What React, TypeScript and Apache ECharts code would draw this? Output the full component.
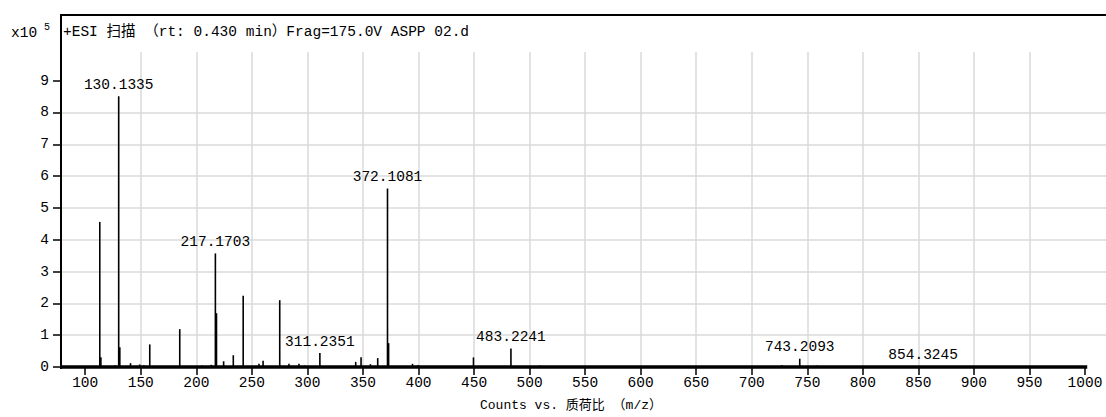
import React, { useEffect, useRef } from "react";
import * as echarts from "echarts";

// ---- data ----
const peakMz = [
  113.1, 114.1, 127.0, 130.1335, 131.14, 140.8, 149.0, 152.8, 158.1, 170.0,
  185.1, 205.0, 213.5, 217.1703, 218.17, 224.6, 233.3, 242.2, 256.4, 260.1,
  275.1, 283.4, 292.4, 297.6, 311.2351, 343.5, 348.3, 356.7, 363.3, 372.1081,
  373.11, 394.6, 399.6, 449.5, 483.2241, 509.0, 727.0, 743.2093, 758.8, 854.3245,
];
const peakCounts = [
  4.56, 0.31, 0.05, 8.51, 0.62, 0.12, 0.08, 0.05, 0.71, 0.03,
  1.19, 0.05, 0.07, 3.57, 1.69, 0.18, 0.37, 2.24, 0.1, 0.2,
  2.1, 0.1, 0.1, 0.05, 0.44, 0.16, 0.31, 0.09, 0.28, 5.61,
  0.75, 0.1, 0.06, 0.3, 0.58, 0.05, 0.06, 0.26, 0.05, 0.03,
];
const labeledMz = [130.1335, 217.1703, 311.2351, 372.1081, 483.2241, 743.2093, 854.3245];
const xTickValues = [100, 150, 200, 250, 300, 350, 400, 450, 500, 550, 600, 650, 700, 750, 800, 850, 900, 950, 1000];
const yTickValues = [0, 1, 2, 3, 4, 5, 6, 7, 8, 9];
const X_MIN = 78.2;
const X_MAX = 1018.9;
const Y_MAX = 9.9;
const baselineRange = [X_MIN, 1002];
const titleText = "+ESI 扫描 （rt: 0.430 min）Frag=175.0V ASPP 02.d";
const xAxisTitle = "Counts vs. 质荷比 （m/z）";

const FONT = "'Liberation Mono', 'Noto Sans CJK SC', monospace";
const FS = 14.5;

export default function App() {
  const ref = useRef<HTMLDivElement>(null);
  useEffect(() => {
    if (!ref.current) return;
    const chart = echarts.init(ref.current, undefined, { renderer: "svg" });
    const peakData = peakMz.map((m, i) => [m, peakCounts[i], labeledMz.indexOf(m) >= 0 ? 1 : 0]);
    chart.setOption({
      animation: false,
      backgroundColor: "#ffffff",
      grid: { left: 61, right: 0, top: 52, bottom: 50, containLabel: false },
      xAxis: {
        type: "value",
        min: X_MIN,
        max: X_MAX,
        minInterval: 50,
        maxInterval: 50,
        splitNumber: 19,
        axisLine: { show: false },
        axisTick: {
          show: true,
          length: 8,
          customValues: xTickValues,
          lineStyle: { color: "#000", width: 1.5 },
        },
        axisLabel: {
          customValues: xTickValues,
          formatter: (v: number) => String(v),
          margin: 9,
          color: "#000",
          fontFamily: FONT,
          fontSize: FS,
        },
        splitLine: {
          show: true,
          showMinLine: false,
          showMaxLine: false,
          lineStyle: { color: "#dadada", width: 1.5 },
        },
      },
      yAxis: {
        type: "value",
        min: 0,
        max: Y_MAX,
        interval: 1,
        axisLine: { show: false },
        axisTick: {
          show: true,
          length: 8,
          customValues: yTickValues,
          lineStyle: { color: "#000", width: 1.5 },
        },
        axisLabel: {
          customValues: yTickValues,
          formatter: (v: number) => String(v),
          margin: 12,
          color: "#000",
          fontFamily: FONT,
          fontSize: FS,
        },
        splitLine: {
          show: true,
          showMinLine: false,
          showMaxLine: false,
          lineStyle: { color: "#dadada", width: 1.5 },
        },
      },
      series: [
        {
          type: "line",
          data: [[baselineRange[0], 0], [baselineRange[1], 0]],
          symbol: "none",
          clip: false,
          lineStyle: { color: "#000", width: 3.5 },
          z: 3,
        },
        {
          type: "custom",
          data: peakData,
          clip: false,
          z: 4,
          renderItem: (params: any, api: any) => {
            const x = api.value(0);
            const y = api.value(1);
            const lab = api.value(2);
            const p0 = api.coord([x, 0]);
            const p1 = api.coord([x, y]);
            const children: any[] = [
              {
                type: "line",
                shape: { x1: p0[0], y1: p0[1], x2: p1[0], y2: p1[1] },
                style: { stroke: "#000", lineWidth: 1.6 },
              },
            ];
            if (lab) {
              children.push({
                type: "text",
                x: p1[0],
                y: p1[1] - 4,
                style: {
                  text: x.toFixed(4),
                  fill: "#000",
                  font: `${FS}px ${FONT}`,
                  align: "center",
                  verticalAlign: "bottom",
                },
              });
            }
            return { type: "group", children };
          },
        },
      ],
      graphic: [
        {
          type: "polyline",
          shape: { points: [[61, 369], [61, 15], [1106, 15]] },
          style: { stroke: "#000", lineWidth: 2, fill: "none" },
          z: 10,
        },
        {
          type: "text",
          x: 63,
          y: 32,
          style: {
            text: titleText,
            fill: "#000",
            font: `${FS}px ${FONT}`,
            verticalAlign: "middle",
          },
        },
        {
          type: "text",
          x: 11,
          y: 33,
          style: { text: "x10", fill: "#000", font: `${FS}px ${FONT}`, verticalAlign: "middle" },
        },
        {
          type: "text",
          x: 44,
          y: 27,
          style: { text: "5", fill: "#000", font: `10px ${FONT}`, verticalAlign: "middle" },
        },
        {
          type: "text",
          x: 571,
          y: 405,
          style: {
            text: xAxisTitle,
            fill: "#000",
            font: `13px ${FONT}`,
            align: "center",
            verticalAlign: "middle",
          },
        },
      ],
    });
    return () => chart.dispose();
  }, []);
  return (
    <div
      ref={ref}
      style={{ position: "fixed", left: 0, top: 0, width: 1106, height: 417, background: "#fff" }}
    />
  );
}
